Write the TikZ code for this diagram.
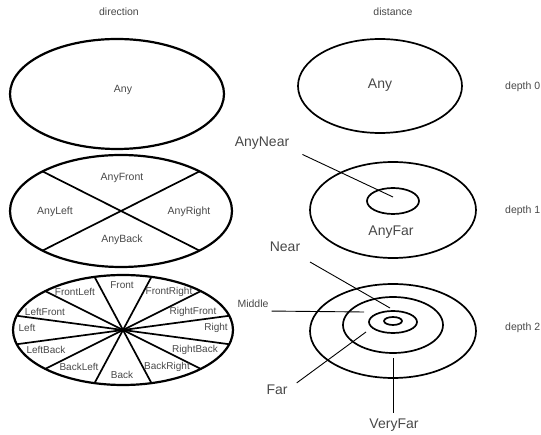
\documentclass[tikz,border=0pt]{standalone}
\usepackage{fontspec}
\setmainfont{Liberation Sans}
\usepackage{tikz}
\usetikzlibrary{calc}
\definecolor{labelgray}{RGB}{72,72,72}
\tikzset{
  % --- rings and sectors -----------------------------------------------------
  dirring/.style={draw=black, line width=2.2pt},
  distring/.style={draw=black, line width=1.7pt},
  sectorline/.style={draw=black, line width=1.7pt},
  leader/.style={draw=black, line width=0.9pt},
  % --- texts -----------------------------------------------------------------
  smalltag/.style={font=\fontsize{10.5}{12}\selectfont, text=labelgray, inner sep=1pt},
  sectortag/.style={font=\fontsize{10}{12}\selectfont, text=labelgray, inner sep=0.5pt},
  bigtag/.style={font=\fontsize{14}{16}\selectfont, text=labelgray, inner sep=1pt},
}

\begin{document}
\begin{tikzpicture}[x=1pt, y=-1pt]
    \useasboundingbox (0,0) rectangle (541,435);

    % column heads
    \node[smalltag] (dirhead) at (119,12) {direction};
    \node[smalltag] (disthead) at (393,12) {distance};

    % depth 0
    \draw[dirring] (117,94) ellipse [x radius=107pt, y radius=55pt];
    \node[smalltag] (dirany) at (123,90) {Any};
    \draw[distring] (380,86) ellipse [x radius=82pt, y radius=47pt];
    \node[bigtag] (distany) at (380,85) {Any};
    \node[smalltag, anchor=west] (depthzero) at (504,87) {depth 0};

    % depth 1
    \coordinate (crossc) at (121,211);
    \draw[dirring] (crossc) ellipse [x radius=111pt, y radius=56pt];
    \draw[sectorline] ($(crossc)+(-78.5,-39.6)$) -- ($(crossc)+(78.5,39.6)$);
    \draw[sectorline] ($(crossc)+(78.5,-39.6)$) -- ($(crossc)+(-78.5,39.6)$);
    \node[smalltag] (anyfront) at (122,178) {AnyFront};
    \node[smalltag] (anyleft) at (55,212) {AnyLeft};
    \node[smalltag] (anyright) at (189,212) {AnyRight};
    \node[smalltag] (anyback) at (122,240) {AnyBack};

    \draw[distring] (393,210) ellipse [x radius=83pt, y radius=48pt];
    \draw[distring] (393,201) ellipse [x radius=26pt, y radius=13pt];
    \node[bigtag] (anyfar) at (391,232) {AnyFar};
    \node[bigtag] (anynear) at (262,143) {AnyNear};
    \coordinate (anynearend) at (393,197);
    \draw[leader] (anynear.south east) ++(12,4) -- (anynearend);
    \node[smalltag, anchor=west] (depthone) at (504,211) {depth 1};

    % depth 2
    \coordinate (starc) at (123,330);
    \draw[dirring] (starc) ellipse [x radius=110pt, y radius=55pt];
    \foreach \t in {15,45,...,345}
      \draw[sectorline] (starc) -- ($(starc)+({110*cos(\t)},{55*sin(\t)})$);
    \node[sectortag] (front) at (122,285) {Front};
    \node[sectortag] (frontleft) at (75,292) {FrontLeft};
    \node[sectortag] (frontright) at (169,292) {FrontRight};
    \node[sectortag] (leftfront) at (45,312) {LeftFront};
    \node[sectortag] (rightfront) at (193,312) {RightFront};
    \node[sectortag] (left) at (27,328) {Left};
    \node[sectortag] (right) at (216,328) {Right};
    \node[sectortag] (leftback) at (46,350) {LeftBack};
    \node[sectortag] (rightback) at (195,350) {RightBack};
    \node[sectortag] (backleft) at (79,367) {BackLeft};
    \node[sectortag] (backright) at (167,367) {BackRight};
    \node[sectortag] (back) at (122,375) {Back};

    \draw[distring] (393,331) ellipse [x radius=83pt, y radius=47pt];
    \draw[distring] (393,325) ellipse [x radius=50pt, y radius=28pt];
    \draw[distring] (393,322) ellipse [x radius=24pt, y radius=11pt];
    \draw[distring] (393,321) ellipse [x radius=9pt, y radius=4pt];
    \node[bigtag] (near) at (285,247) {Near};
    \node[smalltag] (middle) at (253,304) {Middle};
    \node[bigtag] (far) at (277,390) {Far};
    \node[bigtag] (veryfar) at (394,425) {VeryFar};
    \coordinate (nearend) at (390,308);
    \coordinate (middleend) at (364,312);
    \coordinate (farend) at (366,332);
    \coordinate (veryfarend) at (393,358);
    \draw[leader] (310,262) -- (nearend);
    \draw[leader] (middle.south east) ++(2,2) -- (middleend);
    \draw[leader] (far.north east) ++(8,-1) -- (farend);
    \draw[leader] (veryfar.north) ++(-1,-5) -- (veryfarend);
    \node[smalltag, anchor=west] (depthtwo) at (504,328) {depth 2};
  \end{tikzpicture}
\end{document}
